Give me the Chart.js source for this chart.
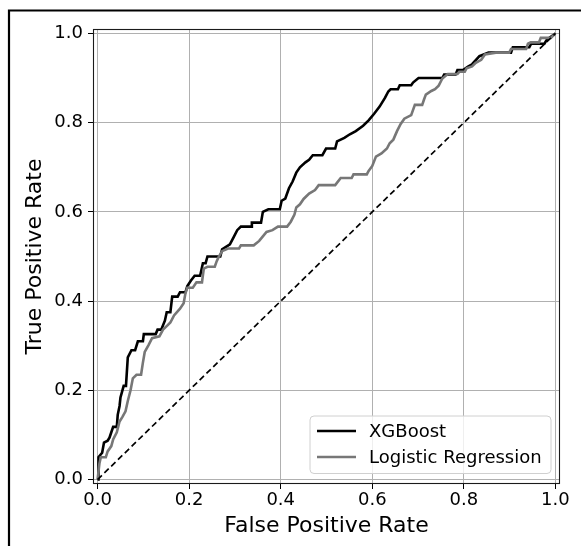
<!DOCTYPE html>
<html>
<head>
<meta charset="utf-8">
<script src="https://cdn.jsdelivr.net/npm/chart.js@4/dist/chart.umd.min.js"></script>
<style>
  html, body { margin: 0; padding: 0; background: #ffffff; }
  #wrap { position: relative; width: 581px; height: 546px; }
  canvas { display: block; }
</style>
</head>
<body>
<div id="wrap"><canvas id="c" width="581" height="546"></canvas></div>
<script>
// ---------- data ----------
const seriesNames = ["XGBoost", "Logistic Regression"];
const tickValues = [0.0, 0.2, 0.4, 0.6, 0.8, 1.0];
const xTitle = "False Positive Rate";
const yTitle = "True Positive Rate";

const xgbFpr = [0, 0.002, 0.002, 0.01, 0.014, 0.022, 0.026, 0.03, 0.034, 0.042, 0.044, 0.048, 0.05, 0.057, 0.062, 0.066, 0.074, 0.082, 0.088, 0.099, 0.101, 0.127, 0.131, 0.139, 0.147, 0.151, 0.159, 0.163, 0.175, 0.18, 0.192, 0.196, 0.204, 0.212, 0.224, 0.23, 0.236, 0.24, 0.268, 0.272, 0.289, 0.297, 0.305, 0.313, 0.337, 0.337, 0.357, 0.361, 0.373, 0.398, 0.402, 0.41, 0.418, 0.426, 0.434, 0.442, 0.454, 0.462, 0.47, 0.491, 0.499, 0.519, 0.523, 0.539, 0.551, 0.564, 0.58, 0.592, 0.604, 0.616, 0.628, 0.635, 0.64, 0.656, 0.66, 0.685, 0.689, 0.701, 0.753, 0.757, 0.782, 0.786, 0.798, 0.81, 0.818, 0.834, 0.854, 0.903, 0.907, 0.943, 0.947, 0.976, 0.98, 0.984, 1.0];
const xgbTpr = [0, 0.0, 0.05, 0.06, 0.083, 0.087, 0.094, 0.106, 0.118, 0.118, 0.145, 0.165, 0.184, 0.21, 0.21, 0.274, 0.29, 0.29, 0.31, 0.31, 0.326, 0.326, 0.336, 0.336, 0.356, 0.375, 0.375, 0.41, 0.41, 0.42, 0.42, 0.434, 0.446, 0.457, 0.457, 0.485, 0.485, 0.5, 0.5, 0.516, 0.527, 0.543, 0.559, 0.567, 0.567, 0.576, 0.576, 0.6, 0.606, 0.606, 0.625, 0.63, 0.653, 0.668, 0.688, 0.7, 0.711, 0.717, 0.727, 0.727, 0.742, 0.742, 0.758, 0.766, 0.774, 0.781, 0.793, 0.805, 0.82, 0.836, 0.856, 0.87, 0.875, 0.875, 0.884, 0.884, 0.89, 0.9, 0.9, 0.908, 0.908, 0.918, 0.918, 0.926, 0.931, 0.949, 0.957, 0.957, 0.969, 0.969, 0.977, 0.977, 0.984, 0.988, 1.0];

const lrFpr = [0, 0.004, 0.007, 0.018, 0.022, 0.03, 0.034, 0.042, 0.048, 0.054, 0.061, 0.066, 0.072, 0.077, 0.085, 0.095, 0.099, 0.103, 0.111, 0.119, 0.135, 0.143, 0.151, 0.159, 0.167, 0.18, 0.188, 0.192, 0.196, 0.208, 0.216, 0.228, 0.232, 0.24, 0.256, 0.26, 0.264, 0.272, 0.285, 0.309, 0.313, 0.341, 0.353, 0.361, 0.369, 0.382, 0.394, 0.414, 0.422, 0.43, 0.434, 0.442, 0.45, 0.462, 0.475, 0.483, 0.519, 0.531, 0.555, 0.559, 0.588, 0.592, 0.6, 0.608, 0.62, 0.632, 0.638, 0.646, 0.654, 0.662, 0.67, 0.685, 0.693, 0.709, 0.713, 0.717, 0.729, 0.737, 0.745, 0.753, 0.765, 0.786, 0.79, 0.802, 0.806, 0.818, 0.826, 0.838, 0.846, 0.87, 0.899, 0.903, 0.936, 0.94, 0.946, 0.964, 0.968, 0.99, 1.0];
const lrTpr = [0, 0.036, 0.05, 0.05, 0.063, 0.075, 0.09, 0.106, 0.13, 0.14, 0.153, 0.176, 0.2, 0.227, 0.235, 0.235, 0.262, 0.286, 0.301, 0.317, 0.321, 0.336, 0.344, 0.352, 0.368, 0.383, 0.395, 0.418, 0.43, 0.43, 0.442, 0.442, 0.473, 0.477, 0.477, 0.489, 0.498, 0.512, 0.518, 0.518, 0.525, 0.525, 0.535, 0.545, 0.555, 0.559, 0.567, 0.567, 0.578, 0.594, 0.61, 0.617, 0.629, 0.641, 0.649, 0.66, 0.66, 0.676, 0.676, 0.684, 0.684, 0.692, 0.703, 0.724, 0.731, 0.742, 0.754, 0.762, 0.781, 0.797, 0.809, 0.817, 0.84, 0.84, 0.852, 0.863, 0.871, 0.875, 0.883, 0.899, 0.909, 0.909, 0.914, 0.914, 0.922, 0.926, 0.934, 0.941, 0.953, 0.957, 0.957, 0.965, 0.965, 0.977, 0.98, 0.98, 0.99, 0.99, 1.0];

const diagFpr = [0, 1];
const diagTpr = [0, 1];

// ---------- build ----------
const zip = (xs, ys) => xs.map((x, i) => ({ x: x, y: ys[i] }));
const FONT = "'DejaVu Sans', Verdana, sans-serif";

const seriesColors = ["#000000", "#777777"];

const frameAndBorder = {
  id: "frameAndBorder",
  beforeDraw(chart) {
    const ctx = chart.ctx;
    ctx.save();
    ctx.fillStyle = "#ffffff";
    ctx.fillRect(0, 0, chart.width, chart.height);
    // outer black border (top-left part visible)
    ctx.strokeStyle = "#000000";
    ctx.lineWidth = 2.2;
    ctx.beginPath();
    ctx.moveTo(9, chart.height + 2);
    ctx.lineTo(9, 10.5);
    ctx.lineTo(chart.width + 2, 10.5);
    ctx.stroke();
    ctx.restore();
  },
  afterDatasetsDraw(chart) {
    const a = chart.chartArea;
    const ctx = chart.ctx;
    ctx.save();
    ctx.strokeStyle = "#1a1a1a";
    ctx.lineWidth = 1.1;
    ctx.strokeRect(Math.round(a.left) + 0.5, Math.round(a.top) + 0.5,
                   Math.round(a.right - a.left) - 1, Math.round(a.bottom - a.top) - 1);
    ctx.restore();
  },
  afterDraw(chart) {
    // legend box in lower right, inside the axes
    const a = chart.chartArea;
    const ctx = chart.ctx;
    const bx = a.right - 250, by = a.bottom - 68, bw = 241, bh = 57.5, r = 4;
    ctx.save();
    ctx.beginPath();
    ctx.moveTo(bx + r, by);
    ctx.lineTo(bx + bw - r, by);
    ctx.quadraticCurveTo(bx + bw, by, bx + bw, by + r);
    ctx.lineTo(bx + bw, by + bh - r);
    ctx.quadraticCurveTo(bx + bw, by + bh, bx + bw - r, by + bh);
    ctx.lineTo(bx + r, by + bh);
    ctx.quadraticCurveTo(bx, by + bh, bx, by + bh - r);
    ctx.lineTo(bx, by + r);
    ctx.quadraticCurveTo(bx, by, bx + r, by);
    ctx.closePath();
    ctx.fillStyle = "rgba(255,255,255,0.8)";
    ctx.fill();
    ctx.strokeStyle = "#d0d0d0";
    ctx.lineWidth = 1;
    ctx.stroke();
    ctx.font = "18px " + FONT;
    ctx.textBaseline = "middle";
    ctx.textAlign = "left";
    seriesNames.forEach((name, i) => {
      const yy = by + 15 + i * 26;
      ctx.strokeStyle = seriesColors[i];
      ctx.lineWidth = 2.6;
      ctx.beginPath();
      ctx.moveTo(bx + 7, yy);
      ctx.lineTo(bx + 46, yy);
      ctx.stroke();
      ctx.fillStyle = "#000000";
      ctx.fillText(name, bx + 59, yy + 1);
    });
    ctx.restore();
  }
};

const setTicks = (scale) => {
  scale.ticks = tickValues.map(v => ({ value: v }));
};

new Chart(document.getElementById("c"), {
  type: "scatter",
  data: {
    datasets: [
      {
        label: seriesNames[0],
        data: zip(xgbFpr, xgbTpr),
        showLine: true,
        borderColor: seriesColors[0],
        borderWidth: 2.6,
        pointRadius: 0,
        tension: 0,
        order: 2
      },
      {
        label: seriesNames[1],
        data: zip(lrFpr, lrTpr),
        showLine: true,
        borderColor: seriesColors[1],
        borderWidth: 2.6,
        pointRadius: 0,
        tension: 0,
        order: 1
      },
      {
        label: "chance",
        data: zip(diagFpr, diagTpr),
        showLine: true,
        borderColor: "#000000",
        borderWidth: 1.7,
        borderDash: [6, 3.5],
        pointRadius: 0,
        tension: 0,
        order: 0
      }
    ]
  },
  options: {
    responsive: false,
    animation: false,
    devicePixelRatio: 1,
    layout: { padding: { top: 29, right: 21, left: 0, bottom: 0 } },
    plugins: {
      legend: { display: false },
      tooltip: { enabled: false }
    },
    scales: {
      x: {
        type: "linear",
        min: -0.01,
        max: 1.01,
        afterBuildTicks: setTicks,
        afterFit: (s) => { s.height = 62; },
        border: { display: false },
        grid: { color: "#b0b0b0", lineWidth: 1, tickColor: "#000000", tickLength: 5, drawTicks: true },
        ticks: {
          color: "#000000",
          font: { family: FONT, size: 18 },
          padding: 1,
          maxRotation: 0,
          callback: (v) => Number(v).toFixed(1)
        },
        title: {
          display: true,
          text: xTitle,
          color: "#000000",
          font: { family: FONT, size: 22 },
          padding: { top: 0, bottom: 7 }
        }
      },
      y: {
        type: "linear",
        min: -0.01,
        max: 1.01,
        afterBuildTicks: setTicks,
        afterFit: (s) => { s.width = 93; },
        border: { display: false },
        grid: { color: "#b0b0b0", lineWidth: 1, tickColor: "#000000", tickLength: 5, drawTicks: true },
        ticks: {
          color: "#000000",
          font: { family: FONT, size: 18 },
          padding: 5,
          callback: (v) => Number(v).toFixed(1)
        },
        title: {
          display: true,
          text: yTitle,
          color: "#000000",
          font: { family: FONT, size: 22 },
          padding: { top: 22, bottom: 0 }
        }
      }
    }
  },
  plugins: [frameAndBorder]
});
</script>
</body>
</html>
